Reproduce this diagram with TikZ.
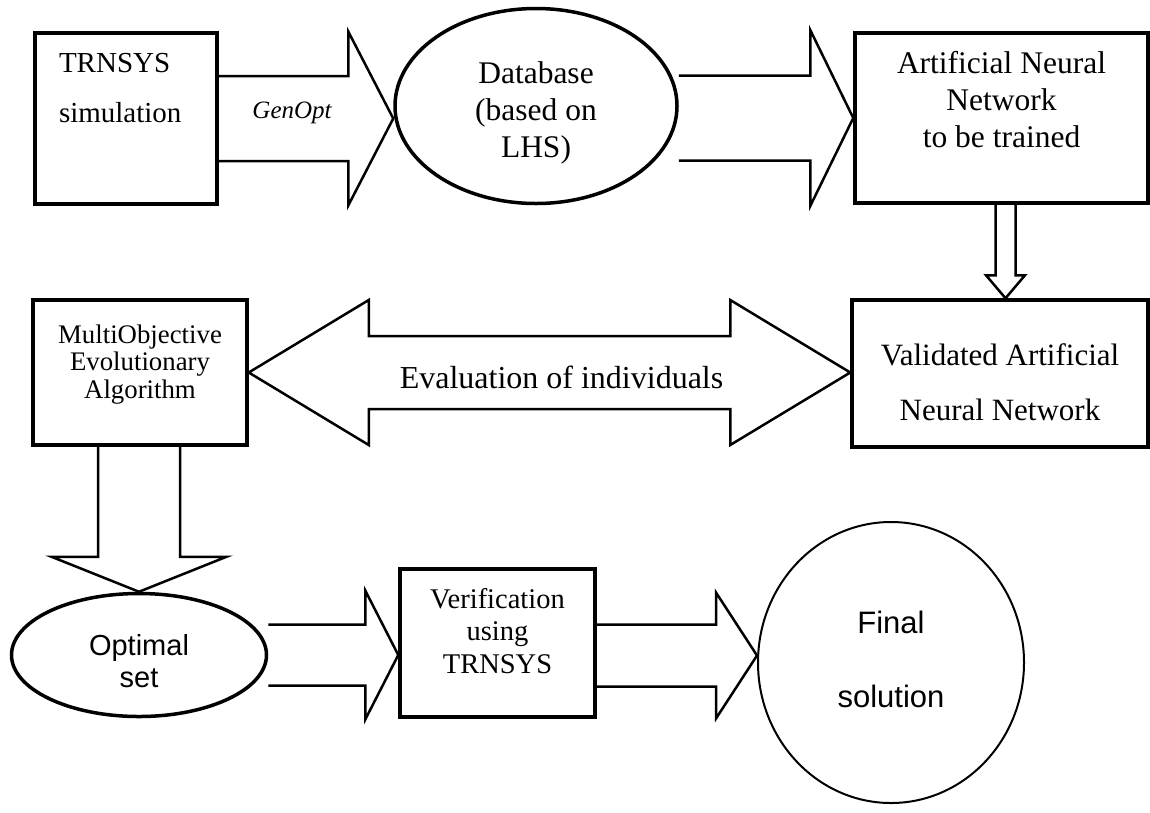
\documentclass[tikz,border=0pt]{standalone}
\usepackage{fontspec}
\setmainfont{Liberation Serif}
\newfontfamily\arialfont{Liberation Sans}
\usetikzlibrary{calc,shapes.geometric}

% block arrows between two nodes: tail, tip, shaft half width, head half width, head length
\newcommand{\fatright}[5]{%
  \draw[blockarrow] let \p1=(#1), \p2=(#2) in
    (\x1,\y2+#3) -- (\x2-#5,\y2+#3) -- (\x2-#5,\y2+#4) -- (\p2)
    -- (\x2-#5,\y2-#4) -- (\x2-#5,\y2-#3) -- (\x1,\y2-#3);}
\newcommand{\fatdown}[5]{%
  \draw[blockarrow] let \p1=(#1), \p2=(#2) in
    (\x2+#3,\y1) -- (\x2+#3,\y2+#5) -- (\x2+#4,\y2+#5) -- (\p2)
    -- (\x2-#4,\y2+#5) -- (\x2-#3,\y2+#5) -- (\x2-#3,\y1);}

\begin{document}
\begin{tikzpicture}[x=1pt,y=-1pt,
  box/.style={draw, rectangle, line width=3.5pt, inner sep=0pt},
  oval/.style={draw, ellipse, line width=3.5pt, inner sep=0pt},
  blockarrow/.style={draw, line width=2.5pt}]
  \useasboundingbox (0,0) rectangle (1150,812);

  \node[box, minimum width=182pt, minimum height=171pt, align=left,
        text width=134pt, inner xsep=24pt, text depth=112pt,
        font={\fontsize{29pt}{50pt}\selectfont}] (trnsys) at (126,118.5)
        {TRNSYS\\simulation\\~};
  \node[oval, minimum width=282pt, minimum height=195pt, align=center,
        text height=113pt, text depth=11pt,
        font={\fontsize{31.5pt}{37pt}\selectfont}] (dbase) at (536,106)
        {Database\\(based on\\LHS)};
  \node[box, minimum width=293pt, minimum height=170pt, align=center,
        text height=69pt, text depth=11pt,
        font={\fontsize{31.5pt}{37pt}\selectfont}] (ann) at (1001.5,118)
        {Artificial Neural\\Network\\to be trained};

  \node[box, minimum width=214pt, minimum height=145pt, align=center,
        text height=59pt, text depth=8pt,
        font={\fontsize{26.8pt}{27.5pt}\selectfont}] (moea) at (140,372.5)
        {MultiObjective\\Evolutionary\\Algorithm};
  \node[box, minimum width=296pt, minimum height=147pt, align=center,
        text height=109.5pt, text depth=16.5pt,
        font={\fontsize{31pt}{55pt}\selectfont}] (valid) at (1000,373.5)
        {Validated Artificial\\Neural Network};

  \node[oval, minimum width=255pt, minimum height=123pt, align=center,
        text height=73.5pt, text depth=9.5pt,
        font={\arialfont\fontsize{29pt}{32pt}\selectfont}] (optimal) at (139,655)
        {Optimal\\set};
  \node[box, minimum width=195pt, minimum height=148pt, align=center,
        text height=70pt, text depth=10pt,
        font={\fontsize{28.5pt}{32.5pt}\selectfont}] (verif) at (497.5,643)
        {Verification\\using\\TRNSYS};
  \node[draw, ellipse, line width=2pt, inner sep=0pt, minimum width=266pt,
        minimum height=281pt, align=center, text height=111pt, text depth=22pt,
        font={\arialfont\fontsize{31pt}{74pt}\selectfont}] (final) at (891,662.5)
        {Final\\solution};

  \fatright{trnsys.east}{dbase.west |- trnsys.east}{42.5pt}{87pt}{45pt}
  \fatright{dbase.east}{ann.west}{42.5pt}{88pt}{43pt}
  \fatdown{ann.south}{[xshift=5.5pt]valid.north}{10pt}{19.5pt}{23pt}
  \draw[blockarrow] let \p1=(moea.east), \p2=(valid.west) in
    (\p1) -- (\x1+120pt,\y1+72.5pt) -- (\x1+120pt,\y1+36.5pt)
    -- (\x2-120pt,\y1+36.5pt) -- (\x2-120pt,\y1+72.5pt) -- (\x2,\y1)
    -- (\x2-120pt,\y1-72.5pt) -- (\x2-120pt,\y1-36.5pt)
    -- (\x1+120pt,\y1-36.5pt) -- (\x1+120pt,\y1-72.5pt) -- cycle;
  \fatdown{moea.south}{optimal.north}{41pt}{87.5pt}{35pt}
  \fatright{optimal.east}{verif.west |- optimal.east}{30.5pt}{64.5pt}{33pt}
  \fatright{verif.east}{[yshift=7pt]final.west}{31pt}{63pt}{41pt}

  \node[font={\itshape\fontsize{25pt}{25pt}\selectfont}] (genopt)
    at ($(trnsys.east)!0.42!(dbase.west)$) {GenOpt};
  \node[font={\fontsize{32pt}{32pt}\selectfont}] (evaltext)
    at ($(moea.east)!0.52!(valid.west)+(0,4)$) {Evaluation of individuals};
\end{tikzpicture}
\end{document}
